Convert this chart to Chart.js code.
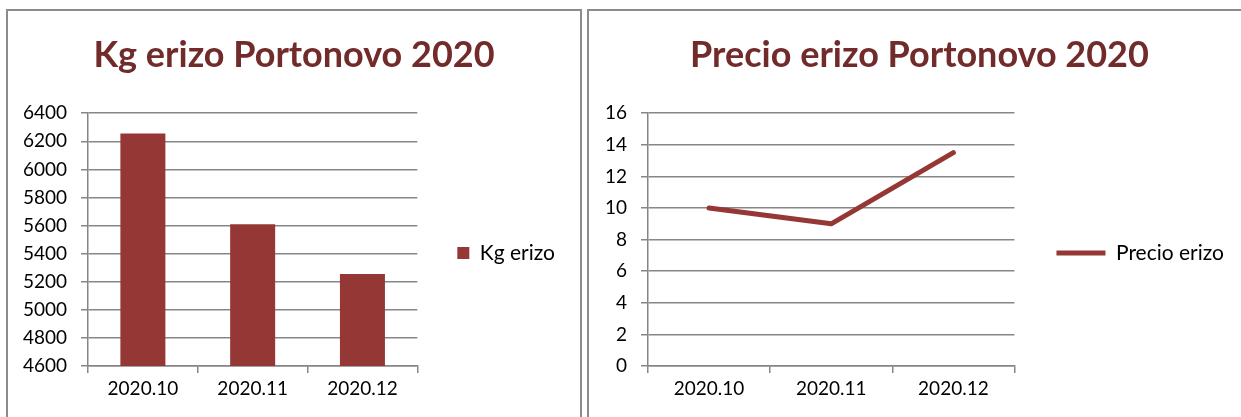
<!DOCTYPE html>
<html>
<head>
<meta charset="utf-8">
<script src="https://cdn.jsdelivr.net/npm/chart.js@4/dist/chart.umd.min.js"></script>
<style>
    html, body { margin: 0; padding: 0; background: #fff; overflow: hidden; width: 1241px; height: 417px; }
    .frame { position: absolute; border: 2px solid #8c8c8c; background: #fff; box-sizing: border-box; }
    #frameKg { left: 6px; top: 9px; width: 576px; height: 430px; }
    #framePrecio { left: 587px; top: 9px; width: 670px; height: 430px; }
    .frame canvas { position: absolute; left: 0; top: 1px; }
</style>
</head>
<body>
<div class="frame" id="frameKg"><canvas id="chartKg" width="572" height="405"></canvas></div>
<div class="frame" id="framePrecio"><canvas id="chartPrecio" width="666" height="405"></canvas></div>
<script>
const months = ['2020.10', '2020.11', '2020.12'];
const kgErizo = [6255, 5610, 5255];
const precioErizo = [10, 9, 13.5];

const DARK_RED = '#953735';
const TITLE_COLOR = '#722b2b';
const GRID = '#868686';
const FONT = "Lato, 'Open Sans', sans-serif";

Chart.defaults.font.family = FONT;
Chart.defaults.color = '#000';
Chart.defaults.animation = false;

function yAxis(min, max, step, width) {
    return {
        min: min,
        max: max,
        ticks: { stepSize: step, font: { size: 19 }, padding: 14, color: '#000', callback: (v) => String(v) },
        grid: { color: GRID, lineWidth: 1.5, tickLength: 7 },
        border: { color: GRID, width: 1.5 },
        afterFit: (s) => { s.width = width; }
    };
}

function xAxis() {
    return {
        offset: true,
        ticks: { font: { size: 19 }, padding: 4, color: '#000' },
        grid: { offset: true, drawOnChartArea: false, color: GRID, lineWidth: 1.5, tickLength: 7 },
        border: { color: GRID, width: 1.5 },
        afterFit: (s) => { s.height = 51; }
    };
}

function titleOpts(text) {
    return {
        display: true,
        text: text,
        color: TITLE_COLOR,
        font: { size: 36, weight: 'bold', lineHeight: 1.2 },
        padding: { top: 22, bottom: 36 }
    };
}

function legendOpts(pad, extra) {
    return {
        position: 'right',
        fullSize: false,
        maxWidth: 400,
        title: { display: true, text: ' ', font: { size: 27, lineHeight: 1 }, padding: 0 },
        labels: Object.assign({ color: '#000', font: { size: 21 }, padding: pad }, extra)
    };
}

// Kg erizo - barras
new Chart(document.getElementById('chartKg'), {
    type: 'bar',
    data: {
        labels: months,
        datasets: [{
            label: 'Kg erizo',
            data: kgErizo,
            backgroundColor: DARK_RED,
            borderWidth: 0,
            categoryPercentage: 1,
            barPercentage: 0.41
        }]
    },
    options: {
        responsive: false,
        layout: { padding: { left: 15, right: 15 } },
        plugins: {
            title: titleOpts('Kg erizo Portonovo 2020'),
            legend: legendOpts(40, { boxWidth: 12, boxHeight: 12 }),
            tooltip: { enabled: false }
        },
        scales: {
            x: xAxis(),
            y: yAxis(4600, 6400, 200, 65)
        }
    }
});

// Precio erizo - linea
new Chart(document.getElementById('chartPrecio'), {
    type: 'line',
    data: {
        labels: months,
        datasets: [{
            label: 'Precio erizo',
            data: precioErizo,
            borderColor: DARK_RED,
            backgroundColor: DARK_RED,
            borderWidth: 5,
            borderCapStyle: 'round',
            borderJoinStyle: 'round',
            pointRadius: 0,
            tension: 0
        }]
    },
    options: {
        responsive: false,
        layout: { padding: { left: 16, right: 21 } },
        plugins: {
            title: titleOpts('Precio erizo Portonovo 2020'),
            legend: legendOpts(42, { usePointStyle: true, pointStyle: 'line', pointStyleWidth: 49 }),
            tooltip: { enabled: false }
        },
        scales: {
            x: xAxis(),
            y: yAxis(0, 16, 2, 43)
        }
    }
});
</script>
</body>
</html>
